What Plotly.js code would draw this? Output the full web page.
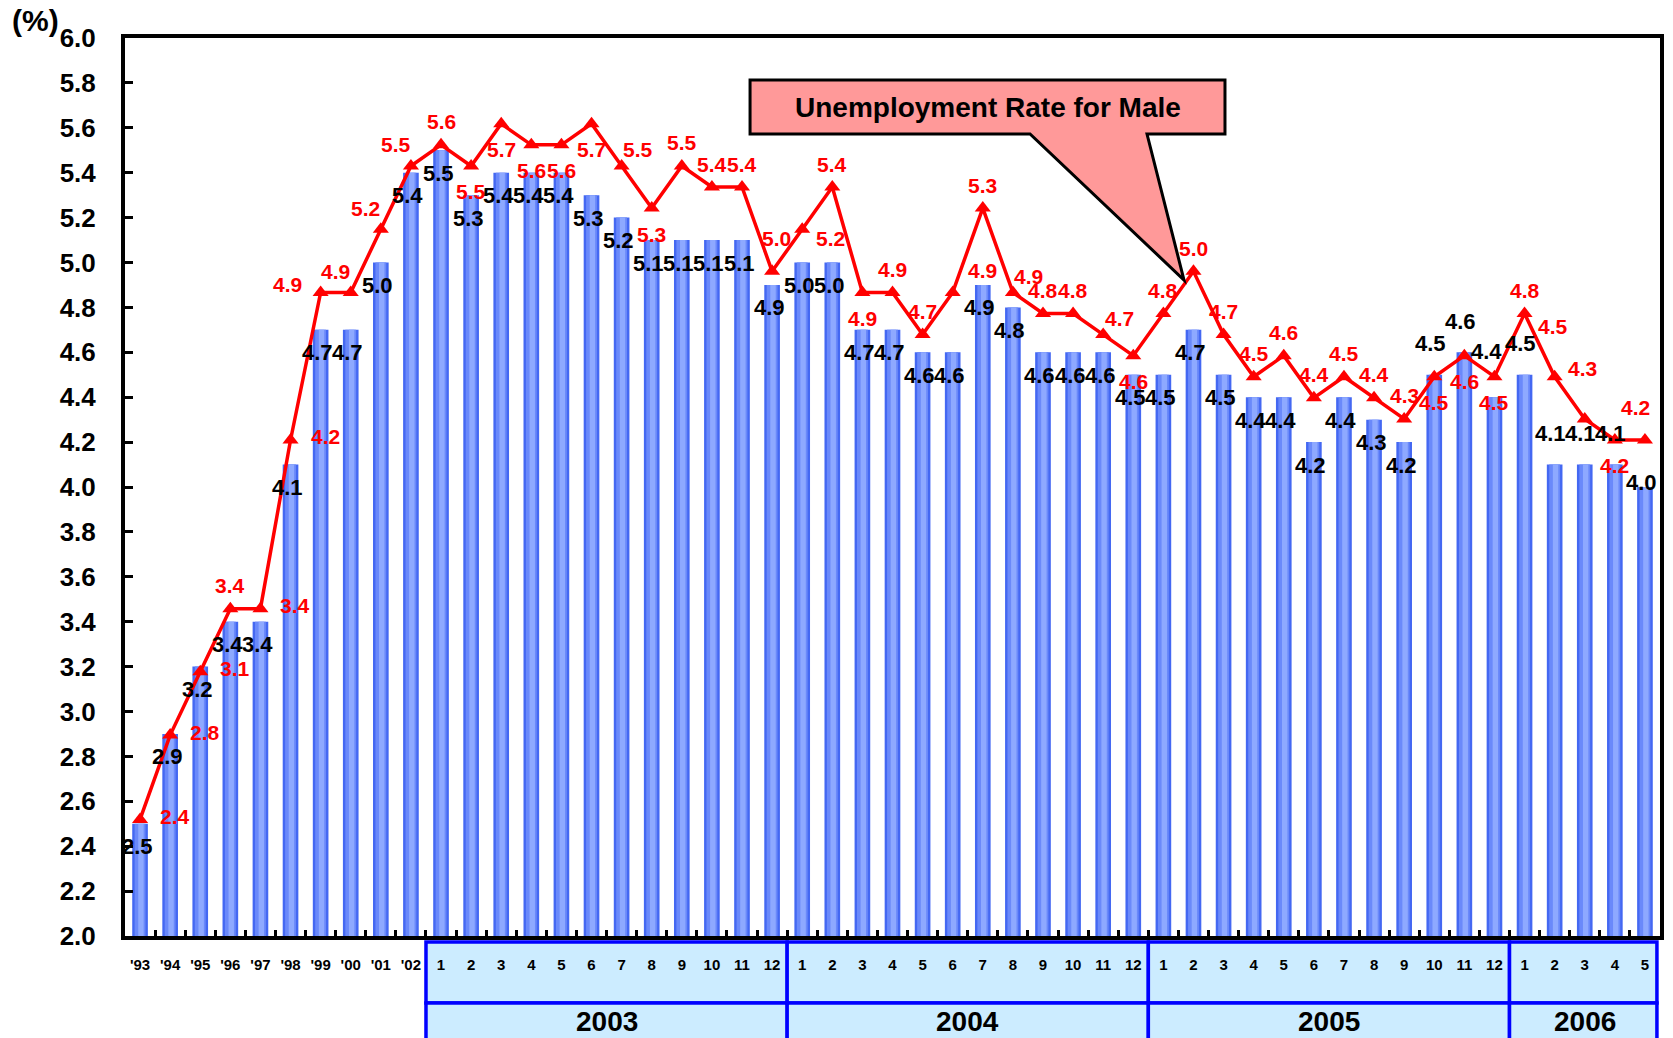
<!DOCTYPE html>
<html>
<head>
<meta charset="utf-8">
<script src="https://cdn.plot.ly/plotly-3.0.1.min.js"></script>
<style>
  html, body { margin: 0; padding: 0; background: #ffffff; }
  #chart { width: 1673px; height: 1038px; }
</style>
</head>
<body>
<div id="chart"></div>
<script>
// ---------------- DATA ----------------
const tickLabels = ["'93","'94","'95","'96","'97","'98","'99","'00","'01","'02",
  "1","2","3","4","5","6","7","8","9","10","11","12",
  "1","2","3","4","5","6","7","8","9","10","11","12",
  "1","2","3","4","5","6","7","8","9","10","11","12",
  "1","2","3","4","5"];
const yearGroups = ["2003","2004","2005","2006"];
const yearGroupMonths = [12, 12, 12, 5];
const totalRate = [2.5,2.9,3.2,3.4,3.4,4.1,4.7,4.7,5.0,5.4,
  5.5,5.3,5.4,5.4,5.4,5.3,5.2,5.1,5.1,5.1,5.1,4.9,
  5.0,5.0,4.7,4.7,4.6,4.6,4.9,4.8,4.6,4.6,4.6,4.5,
  4.5,4.7,4.5,4.4,4.4,4.2,4.4,4.3,4.2,4.5,4.6,4.4,
  4.5,4.1,4.1,4.1,4.0];
const maleRate = [2.4,2.8,3.1,3.4,3.4,4.2,4.9,4.9,5.2,5.5,
  5.6,5.5,5.7,5.6,5.6,5.7,5.5,5.3,5.5,5.4,5.4,5.0,
  5.2,5.4,4.9,4.9,4.7,4.9,5.3,4.9,4.8,4.8,4.7,4.6,
  4.8,5.0,4.7,4.5,4.6,4.4,4.5,4.4,4.3,4.5,4.6,4.5,
  4.8,4.5,4.3,4.2,4.2];
const calloutText = "Unemployment Rate for Male";
const unitText = "(%)";

// ---------------- STYLE ----------------
const FONT = "Liberation Sans, Arial, sans-serif";
const n = tickLabels.length;
const xIdx = tickLabels.map((_, i) => i);

// label placement codes (styling only)
const lineLabelPos = ["R","R","R","T","R","R","L","TL","TL","TL",
  "T","B","B","B","B","B","tr","B","T","T","T","T2",
  "R2","T","B","T","T","TR","T","tr","T","T","tr","B",
  "T","T","T","T","T","T","T","T","T","B","B","B",
  "T","T3","T3","B","T4"];
const barLabelPos = ["B","B","B","B","B","B","B","B","B","B",
  "B","B","B","B","B","B","B","B","B","B","B","B",
  "B","B","B","B","B","B","B","B","B","B","B","B",
  "B","B","B","B","B","B","B","B","B","A","A","A2",
  "A","A","A","A","M"];
const lineShift = {T:[0,23], T2:[4,33], T3:[-2,50], T4:[-9,32], B:[0,-26], R:[35,3], R2:[28,-9],
  TR:[30,22], tr:[16,16], TL:[-15,21], L:[-33,8]};
const barShift = {B:[-3,-23], M:[-3,5], A:[-4,31], A2:[-8,46]};

const traces = [
  {type:'bar', x:xIdx, y:totalRate, width:0.52, marker:{color:'#4468F2'}, hoverinfo:'skip', showlegend:false},
  {type:'bar', x:xIdx, y:totalRate, width:0.36, marker:{color:'#6A89FA'}, hoverinfo:'skip', showlegend:false},
  {type:'bar', x:xIdx, y:totalRate, width:0.18, offset:-0.06, marker:{color:'#8EA9FF'}, hoverinfo:'skip', showlegend:false},
  {type:'scatter', mode:'lines+markers', x:xIdx, y:maleRate, yaxis:'y2',
   line:{color:'#FF0000', width:3.5},
   marker:{symbol:'triangle-up', size:14, color:'#FF0000'},
   hoverinfo:'skip', showlegend:false}
];

const annotations = [];
xIdx.forEach(i => {
  const b = barShift[barLabelPos[i]];
  annotations.push({x:i, y:totalRate[i], xref:'x', yref:'y', text:totalRate[i].toFixed(1),
    showarrow:false, xshift:b[0], yshift:b[1], xanchor:'center', yanchor:'middle',
    font:{family:FONT, size:22, color:'#000000', weight:'bold'}});
  const l = lineShift[lineLabelPos[i]];
  annotations.push({x:i, y:maleRate[i], xref:'x', yref:'y2', text:maleRate[i].toFixed(1),
    showarrow:false, xshift:l[0], yshift:l[1], xanchor:'center', yanchor:'middle',
    font:{family:FONT, size:21, color:'#FF0000', weight:'bold'}});
});

// year table
const shapes = [];
const rowTop = -0.0067, rowMid = -0.0746, rowBot = -0.13;
let start = tickLabels.length - yearGroupMonths.reduce((a,b)=>a+b,0);
yearGroups.forEach((yr, k) => {
  const end = start + yearGroupMonths[k];
  const x0 = start / n, x1 = Math.min(end / n, 0.998);
  [[rowTop,rowMid],[rowMid,rowBot]].forEach(r => {
    shapes.push({type:'rect', xref:'paper', yref:'paper', x0:x0, x1:x1, y0:r[1], y1:r[0],
      fillcolor:'#CCECFF', line:{color:'#0000FF', width:3.5}, layer:'below'});
  });
  annotations.push({x:(start + end - 1)/2, xref:'x', y:-0.095, yref:'paper', text:yr,
    showarrow:false, xanchor:'center', yanchor:'middle',
    font:{family:FONT, size:28, color:'#000000', weight:'bold'}});
  start = end;
});

// callout (speech box)
const bx0 = 0.4072, bx1 = 0.7166, by0 = 0.8931, by1 = 0.9532;
const px0 = 0.5896, px1 = 0.6658, tipX = 0.6899, tipY = 0.7305;
shapes.push({type:'path', xref:'paper', yref:'paper', layer:'above',
  path:`M ${bx0} ${by1} L ${bx1} ${by1} L ${bx1} ${by0} L ${px1} ${by0} L ${tipX} ${tipY} L ${px0} ${by0} L ${bx0} ${by0} Z`,
  fillcolor:'#FF9999', line:{color:'#000000', width:3}});
annotations.push({xref:'paper', yref:'paper', x:(bx0+bx1)/2, y:(by0+by1)/2, text:calloutText,
  showarrow:false, xanchor:'center', yanchor:'middle',
  font:{family:FONT, size:28, color:'#000000', weight:'bold'}});
annotations.push({xref:'paper', yref:'paper', x:-0.0586, y:1.020, text:unitText,
  showarrow:false, xanchor:'center', yanchor:'middle',
  font:{family:FONT, size:30, color:'#000000', weight:'bold'}});

const layout = {
  width:1673, height:1038,
  margin:{l:125, r:13, t:38, b:102},
  paper_bgcolor:'#ffffff', plot_bgcolor:'#ffffff',
  barmode:'overlay',
  showlegend:false,
  font:{family:FONT, color:'#000000'},
  xaxis:{range:[-0.5, n-0.5], tickvals:xIdx, ticktext:tickLabels, tickmode:'array',
    showgrid:false, zeroline:false, showline:true, linecolor:'#000000', linewidth:4, mirror:true,
    ticks:'', tickfont:{family:FONT, size:15, weight:'bold', color:'#000000'},
    ticklabelstandoff:12,
    minor:{tickvals: xIdx.slice(1).map(i => i - 0.5), ticks:'inside', ticklen:6, tickwidth:3, tickcolor:'#000000', showgrid:false}},
  yaxis:{range:[2, 6], dtick:0.2, tick0:2, tickformat:'.1f', showgrid:false, zeroline:false,
    showline:true, linecolor:'#000000', linewidth:4, mirror:true,
    ticks:'inside', ticklen:8, tickwidth:3, tickcolor:'#000000',
    tickfont:{family:FONT, size:26, weight:'bold', color:'#000000'}, ticklabelstandoff:20},
  yaxis2:{overlaying:'y', side:'right', range:[1.847, 6.107], visible:false, showgrid:false, zeroline:false},
  shapes:shapes,
  annotations:annotations
};

Plotly.newPlot('chart', traces, layout, {staticPlot:true});
</script>
</body>
</html>
